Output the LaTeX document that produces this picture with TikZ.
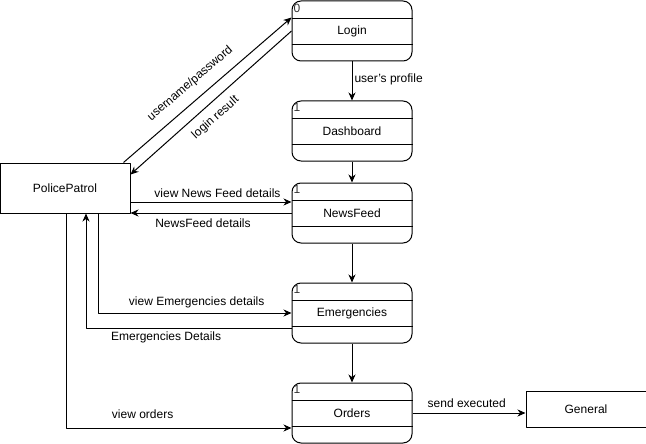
\documentclass[tikz,border=0pt]{standalone}
\usepackage{fontspec}
\setmainfont{Liberation Sans}
\usepackage{tikz}
\usetikzlibrary{arrows.meta, shapes, positioning}
\usepackage{xcolor}
\definecolor{numgrey}{RGB}{51,51,51}

\begin{document}
\begin{tikzpicture}[
                x=1pt, y=1pt,
                line join=bevel,
                every node/.style={font=\fontsize{12}{14}\selectfont},
                processnode/.style={shape=rectangle, draw=black, line width=1pt, rounded corners=9pt,
                                    minimum width=120pt, minimum height=60pt, inner sep=0pt},
                entitynode/.style={shape=rectangle, draw=black, line width=1pt, minimum height=36pt, inner sep=0pt},
                numlabel/.style={anchor=north west, inner sep=0pt, xshift=2pt, yshift=-3pt, text=numgrey, rounded corners=0pt},
                flow/.style={draw=black, line width=1pt, -{Stealth[length=8pt, width=7pt, inset=2.5pt]}},
                flowlabel/.style={inner sep=1pt}
                ]
                \useasboundingbox (0pt, 0pt) rectangle (646pt, -444pt);

                %% Nodes
                \node[entitynode, minimum width=130pt, minimum height=50pt] (police) at (65pt, -188pt) {PolicePatrol};
                \node[entitynode, minimum width=120pt] (general) at (586pt, -409pt) {General};

                \node[processnode, label={[numlabel]north west:0}] (login) at (352pt, -31pt) {Login};
                \node[processnode, label={[numlabel]north west:1}] (dashboard) at (352pt, -131pt) {Dashboard};
                \node[processnode, label={[numlabel]north west:1}] (newsfeed) at (352pt, -213pt) {NewsFeed};
                \node[processnode, label={[numlabel]north west:1}] (emergencies) at (352pt, -313pt) {Emergencies};
                \node[processnode, label={[numlabel]north west:1}] (orders) at (352pt, -413pt) {Orders};

                        % Compartment lines
\foreach \p in {login, dashboard, newsfeed, emergencies, orders} {
  \draw[line width=1pt] ([yshift=-18pt]\p.north west) -- ([yshift=-18pt]\p.north east);
  \draw[line width=1pt] ([yshift=-44pt]\p.north west) -- ([yshift=-44pt]\p.north east);
}

%% Flows
\draw[flow] ([xshift=-7pt]police.north east) -- ([yshift=-17pt]login.north west)
    node[flowlabel, sloped, pos=0.46, above=9pt] {username/password};
\draw[flow] (login.west) -- ([yshift=-12pt]police.north east)
    node[flowlabel, sloped, pos=0.53, below=7pt] {login result};

\draw[flow] (login.south) -- (dashboard.north)
    node[flowlabel, pos=0.45, right=1pt] {user's profile};
\draw[flow] (dashboard.south) -- (newsfeed.north);
\draw[flow] (newsfeed.south) -- (emergencies.north);
\draw[flow] (emergencies.south) -- (orders.north);

\draw[flow] ([yshift=-14pt]police.east) -- ([yshift=11pt]newsfeed.west)
    node[flowlabel, pos=0.54, above=3pt] {view News Feed details};
\draw[flow] (newsfeed.west) -- (newsfeed.west -| police.east)
    node[flowlabel, pos=0.55, below=4pt] {NewsFeed details};

\draw[flow] ([xshift=33pt]police.south) |- (emergencies.west)
    node[flowlabel, pos=0.755, above=4pt] {view Emergencies details};
\draw[flow] ([yshift=-15pt]emergencies.west) -| ([xshift=21pt]police.south)
    node[flowlabel, pos=0.305, below=2pt] {Emergencies Details};

\draw[flow] ([xshift=1pt]police.south) |- ([yshift=-15pt]orders.west)
    node[flowlabel, pos=0.67, above=8pt] {view orders};

\draw[flow] (orders.east) -- (orders.east -| general.west)
    node[flowlabel, pos=0.48, above=4pt] {send executed};
                    \end{tikzpicture}
\end{document}
